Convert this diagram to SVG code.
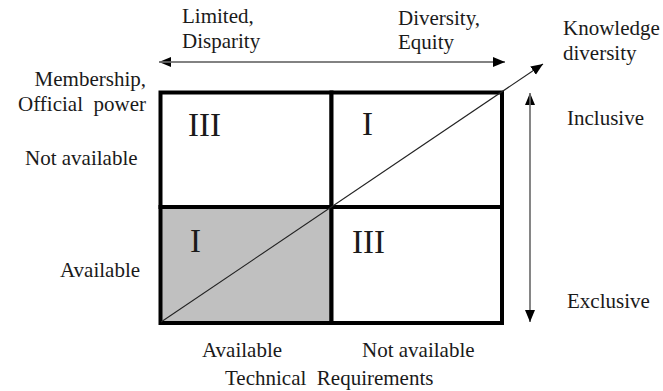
<svg xmlns="http://www.w3.org/2000/svg" width="663" height="391" viewBox="0 0 663 391">
  <style>
    text { font-family: "Liberation Serif", "Times New Roman", serif; fill: #1a1a1a; }
    .lbl { font-size: 21px; }
    .num { font-size: 33px; }
    .cell { stroke: #000; stroke-width: 4; }
    .axis { stroke: #7a7a7a; stroke-width: 1.4; fill: none; }
    .diag { stroke: #222; stroke-width: 1.1; fill: none; }
  </style>
  <defs>
    <marker id="arrow" markerUnits="userSpaceOnUse" markerWidth="14" markerHeight="12" refX="12" refY="5" orient="auto">
      <path d="M0,0 L12,5 L0,10 Z" fill="#000"/>
    </marker>
  </defs>
  <rect width="663" height="391" fill="#fff"/>

  <!-- quadrants -->
  <g id="q-top-left"><rect class="cell" x="160.5" y="92.5" width="171" height="114.5" fill="#fff"/><text class="num" x="188" y="136">III</text></g>
  <g id="q-top-right"><rect class="cell" x="331.5" y="92.5" width="170.5" height="114.5" fill="#fff"/><text class="num" x="362" y="135">I</text></g>
  <g id="q-bottom-left"><rect class="cell" x="160.5" y="207" width="171" height="116" fill="#c0c0c0"/><text class="num" x="190" y="252">I</text></g>
  <g id="q-bottom-right"><rect class="cell" x="331.5" y="207" width="170.5" height="116" fill="#fff"/><text class="num" x="352" y="253">III</text></g>

  <!-- connectors -->
  <g id="connectors">
    <line class="axis" x1="505" y1="62" x2="159" y2="62" marker-end="url(#arrow)"/>
    <line class="axis" x1="159" y1="62" x2="505" y2="62" marker-end="url(#arrow)"/>
    <line class="axis" x1="530" y1="322" x2="530" y2="93" marker-end="url(#arrow)"/>
    <line class="axis" x1="530" y1="93" x2="530" y2="322" marker-end="url(#arrow)"/>
    <line class="diag" x1="161" y1="322" x2="543" y2="64" marker-end="url(#arrow)"/>
  </g>

  <!-- axis labels -->
  <g id="top-labels">
    <text class="lbl" x="182" y="23">Limited,</text>
    <text class="lbl" x="182" y="48">Disparity</text>
    <text class="lbl" x="398" y="25">Diversity,</text>
    <text class="lbl" x="398" y="49">Equity</text>
  </g>
  <g id="knowledge-label">
    <text class="lbl" x="563" y="35">Knowledge</text>
    <text class="lbl" x="563" y="60">diversity</text>
  </g>
  <g id="side-labels">
    <text class="lbl" x="146" y="86" text-anchor="end">Membership,</text>
    <text class="lbl" x="146" y="111" text-anchor="end">Official&#160; power</text>
    <text class="lbl" x="25" y="165">Not available</text>
    <text class="lbl" x="60" y="277">Available</text>
    <text class="lbl" x="567" y="125">Inclusive</text>
    <text class="lbl" x="567" y="308">Exclusive</text>
  </g>
  <g id="bottom-labels">
    <text class="lbl" x="202" y="357">Available</text>
    <text class="lbl" x="362" y="357">Not available</text>
    <text class="lbl" x="225" y="385">Technical&#160; Requirements</text>
  </g>
</svg>
